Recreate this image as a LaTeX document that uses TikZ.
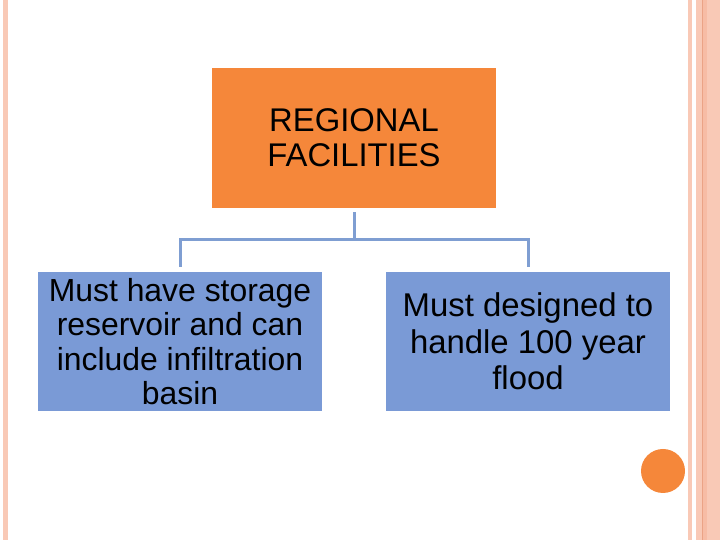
\documentclass[tikz,border=0pt]{standalone}
\usepackage{fontspec}
\setmainfont{Liberation Sans}
\usepackage{xcolor}
\definecolor{tangerine}{HTML}{F5873A}
\definecolor{cornflower}{HTML}{7A9AD6}
\definecolor{wire}{HTML}{7F9ED2}
\definecolor{peach}{HTML}{F9C9B6}
\definecolor{peachdk}{HTML}{F7BCA5}
\definecolor{rust}{HTML}{EBA386}
\usetikzlibrary{positioning,calc}
\tikzset{
  head/.style={fill=tangerine,minimum width=284pt,minimum height=140pt,align=center,
    font=\fontsize{32.8}{35}\selectfont,inner sep=0pt},
  leaf/.style={fill=cornflower,minimum width=284pt,minimum height=139pt,align=center,inner sep=0pt},
  conn/.style={draw=wire,line width=3pt},
  band/.style={fill=peach,draw=none},
}
\begin{document}
\begin{tikzpicture}[x=1pt,y=1pt]
  \useasboundingbox (0,0) rectangle (720,540);
  % page trim
  \fill[band] (3,0) rectangle (8,540);
  \fill[band] (688,0) rectangle (692,540);
  \fill[band] (696,0) rectangle (720,540);
  \fill[peachdk] (703,0) rectangle (707,540);
  \draw[rust,line width=0.8pt] (702,0) -- (702,540);
  \fill[tangerine] (663,69) circle (22);
  % chart
  \node[head] (reg) at (354,402) {REGIONAL\\FACILITIES};
  \node[leaf,font=\fontsize{31.9}{34.3}\selectfont] (store) at (180,198.5) {Must have storage\\reservoir and can\\include infiltration\\basin};
  \node[leaf,font=\fontsize{32.9}{36.5}\selectfont] (flood) at (528,198.5) {Must designed to\\handle 100 year\\flood};
  \draw[conn] ([yshift=-4pt]reg.south) -- ++(0,-27) coordinate (hub);
  \draw[conn] (hub) -| ([yshift=5pt]store.north);
  \draw[conn] (hub) -| ([yshift=5pt]flood.north);
\end{tikzpicture}
\end{document}
